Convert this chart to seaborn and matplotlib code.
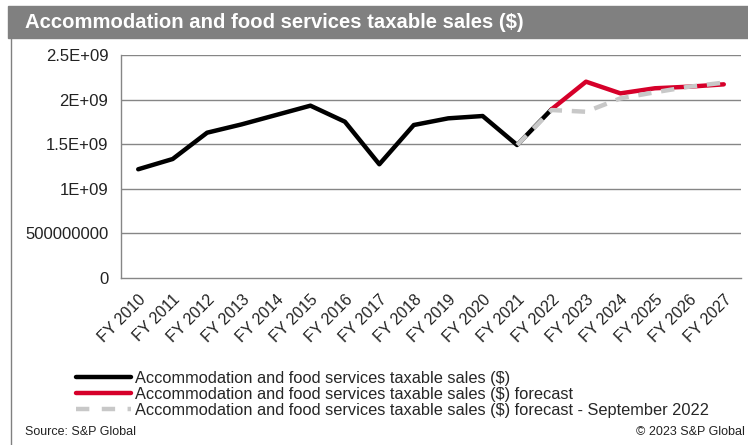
import matplotlib
matplotlib.use("Agg")
import matplotlib.pyplot as plt
import matplotlib.patches as mpatches
from matplotlib.lines import Line2D
import seaborn as sns
import pandas as pd
import numpy as np

years = ["FY 2010", "FY 2011", "FY 2012", "FY 2013", "FY 2014", "FY 2015",
         "FY 2016", "FY 2017", "FY 2018", "FY 2019", "FY 2020", "FY 2021",
         "FY 2022", "FY 2023", "FY 2024", "FY 2025", "FY 2026", "FY 2027"]

actual = [1.219e9, 1.334e9, 1.629e9, 1.722e9, 1.827e9, 1.932e9,
          1.752e9, 1.275e9, 1.715e9, 1.790e9, 1.816e9, 1.491e9, 1.891e9]
forecast = [1.891e9, 2.201e9, 2.070e9, 2.127e9, 2.145e9, 2.171e9]
forecast_sep22 = [1.491e9, 1.883e9, 1.864e9, 2.014e9, 2.082e9, 2.145e9, 2.190e9]

y_ticks = [0, 5e8, 1e9, 1.5e9, 2e9, 2.5e9]
y_tick_labels = ["0", "500000000", "1E+09", "1.5E+09", "2E+09", "2.5E+09"]

legend_labels = [
    "Accommodation and food services taxable sales ($)",
    "Accommodation and food services taxable sales ($) forecast",
    "Accommodation and food services taxable sales ($) forecast - September 2022",
]
title = "Accommodation and food services taxable sales ($)"

sns.set_theme(style="white")
plt.rcParams["font.family"] = ["Liberation Sans", "DejaVu Sans"]

df_actual = pd.DataFrame({"x": np.arange(len(actual)), "v": actual})
df_fc = pd.DataFrame({"x": np.arange(12, 12 + len(forecast)), "v": forecast})
df_sep = pd.DataFrame({"x": np.arange(11, 11 + len(forecast_sep22)), "v": forecast_sep22})

W, H = 748, 445
fig = plt.figure(figsize=(W / 100, H / 100), dpi=100)

# header band and frame
fig.patches.append(mpatches.Rectangle((8 / W, 1 - 38 / H), 1 - 8 / W, 32 / H,
                                      transform=fig.transFigure, color="#808080", zorder=0))
fig.add_artist(Line2D([11 / W, 11 / W], [0, 1 - 38 / H], transform=fig.transFigure,
                      color="#808080", lw=1))
fig.text(25 / W, 1 - 22 / H, title, color="white", fontsize=14.6, fontweight="bold",
         va="center", ha="left")

ax = fig.add_axes([121 / W, 1 - 278 / H, 620 / W, 223 / H])
grid_c = "#868686"
dash = (0, (3, 2.2))
sns.lineplot(data=df_actual, x="x", y="v", ax=ax, color="black", lw=3.2, zorder=3)
sns.lineplot(data=df_fc, x="x", y="v", ax=ax, color="#d6002a", lw=3.2, zorder=3)
sns.lineplot(data=df_sep, x="x", y="v", ax=ax, color="#c8c8c8", lw=3.2, zorder=4,
             dashes=False, linestyle=dash)

ax.set_xlim(-0.5, len(years) - 0.5)
ax.set_ylim(0, 2.5e9)
ax.set_yticks(y_ticks)
ax.set_yticklabels(y_tick_labels, fontsize=12, color="#222222")
ax.set_xticks(np.arange(len(years)))
ax.set_xticklabels(years, rotation=45, ha="right", rotation_mode="anchor",
                   fontsize=11.5, color="#222222")
ax.set_xticks(np.arange(-0.5, len(years)), minor=True)
ax.tick_params(axis="x", which="major", length=0, pad=10)
ax.tick_params(axis="x", which="minor", length=5, color=grid_c, width=1, direction="out")
ax.tick_params(axis="y", length=5, color=grid_c, width=1, direction="out", pad=4)
ax.set_xlabel("")
ax.set_ylabel("")
for y in y_ticks[1:]:
    ax.axhline(y, color=grid_c, lw=1, zorder=1)
for s in ["top", "right"]:
    ax.spines[s].set_visible(False)
for s in ["left", "bottom"]:
    ax.spines[s].set_color(grid_c)
    ax.spines[s].set_linewidth(1)
ax.set_facecolor("white")

handles = [
    Line2D([], [], color="black", lw=3.2),
    Line2D([], [], color="#d6002a", lw=3.2),
    Line2D([], [], color="#c8c8c8", lw=3.2, linestyle=(0, (3, 2.8))),
]
fig.legend(handles, legend_labels, loc="upper left", bbox_to_anchor=(76 / W, 1 - 371 / H),
           frameon=False, fontsize=11.8, handlelength=3.35, handletextpad=0.25,
           labelspacing=0.05, borderpad=0, borderaxespad=0)

fig.text(25 / W, 1 - 432 / H, "Source: S&P Global", fontsize=9, va="center", ha="left",
         color="#222222")
fig.text(745 / W, 1 - 432 / H, "\u00a9 2023 S&P Global", fontsize=9, va="center",
         ha="right", color="#222222")

fig.savefig("out.png", dpi=100)
